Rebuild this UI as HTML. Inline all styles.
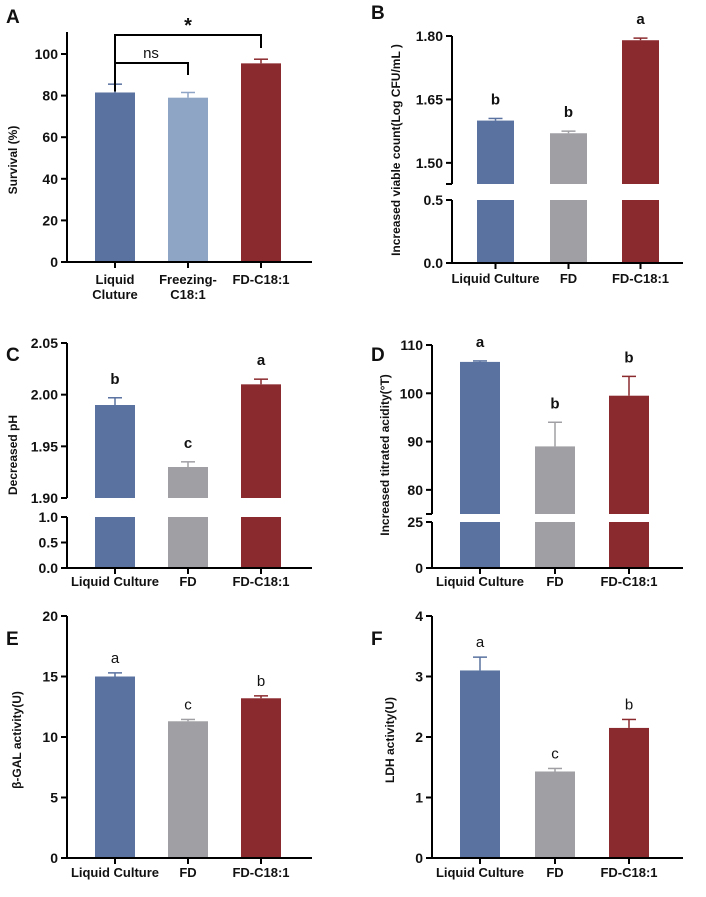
<!DOCTYPE html>
<html><head><meta charset="utf-8"><style>
body{margin:0;background:#fff}
svg text{font-family:"Liberation Sans",Arial,sans-serif;fill:#111}
</style></head><body>
<svg id="c" width="706" height="892" xmlns="http://www.w3.org/2000/svg"></svg>
<script>
const colors3=['#5a72a0','#a0a0a4','#8b2a2e'];
const catsA=['Liquid|Cluture','Freezing-|C18:1','FD-C18:1'];
const valsA=[81.5,79,95.5]; const errA=[4,2.5,2];
const ticksA=[0,20,40,60,80,100];
const cats3=['Liquid Culture','FD','FD-C18:1'];
const valsB=[1.60,1.57,1.79]; const errB=[0.005,0.005,0.005]; const lettersB=['b','b','a'];
const ticksBup=['1.50','1.65','1.80']; const ticksBlo=['0.0','0.5'];
const valsC=[1.99,1.93,2.01]; const errC=[0.007,0.005,0.005]; const lettersC=['b','c','a'];
const ticksCup=['1.90','1.95','2.00','2.05']; const ticksClo=['0.0','0.5','1.0'];
const valsD=[106.5,89,99.5]; const errD=[0.2,5,4]; const lettersD=['a','b','b'];
const ticksDup=['80','90','100','110']; const ticksDlo=['0','25'];
const valsE=[15,11.3,13.2]; const errE=[0.3,0.15,0.2]; const lettersE=['a','c','b'];
const ticksE=['0','5','10','15','20'];
const valsF=[3.1,1.43,2.15]; const errF=[0.22,0.05,0.14]; const lettersF=['a','c','b'];
const ticksF=['0','1','2','3','4'];

const S=document.getElementById('c');const NS='http://www.w3.org/2000/svg';
function el(t,a,p){const e=document.createElementNS(NS,t);for(const k in a)e.setAttribute(k,a[k]);(p||S).appendChild(e);return e;}
function txt(x,y,s,o,p){const e=el('text',Object.assign({x:x,y:y},o||{}),p);e.textContent=s;return e;}

// segs: [{min,max,yb,yt}] bottom first
function panel(cfg){
  const g=el('g',{});
  
  
  const segs=cfg.segs;
  const ax=cfg.ax;
  function Y(v){for(let i=segs.length-1;i>=0;i--){const s=segs[i];if(v>=s.min||i==0){const vv=Math.min(v,s.max*1.5);return s.yb-(vv-s.min)/(s.max-s.min)*(s.yb-s.yt);}}}
  // bars
  cfg.vals.forEach((v,i)=>{
    const x=cfg.bx[i];const w=cfg.bw;
    segs.forEach((s,si)=>{
      if(v<=s.min&&si>0)return;
      const top=v>=s.max&&si<segs.length-1?s.yt:Y(v);
      const r=el('rect',{x:x,y:top,width:w,height:s.yb-top,fill:cfg.colors[i]},g);
      
      
    });
    const cx=x+w/2, ye=Y(v+cfg.err[i]), yv=Y(v);
    el('line',{x1:cx,x2:cx,y1:ye,y2:yv,stroke:cfg.colors[i],'stroke-width':1.5},g);
    el('line',{x1:cx-7,x2:cx+7,y1:ye,y2:ye,stroke:cfg.colors[i],'stroke-width':1.5},g);
    if(cfg.letters){const t=txt(cx,ye-cfg.lgap,cfg.letters[i],{'text-anchor':'middle','font-size':15,'font-weight':cfg.lbold?'bold':'normal'},g);
      }
  });
  // axis
  segs.forEach((s,si)=>{
    el('line',{x1:ax,x2:ax,y1:s.yt-(si==segs.length-1?cfg.overTop||0:0),y2:s.yb,stroke:'#000','stroke-width':2},g);
    s.ticks.forEach(t=>{const y=s.yb-(parseFloat(t)-s.min)/(s.max-s.min)*(s.yb-s.yt);
      el('line',{x1:ax-6,x2:ax,y1:y,y2:y,stroke:'#000','stroke-width':2},g);
      const l=txt(ax-9,y+5,t,{'text-anchor':'end','font-size':14,'font-weight':'bold'},g);
      });
    if(si>0){el('line',{x1:ax-6,x2:ax,y1:s.yb,y2:s.yb,stroke:'#000','stroke-width':2},g);}
    if(si<segs.length-1){el('line',{x1:ax-6,x2:ax,y1:s.yt,y2:s.yt,stroke:'#000','stroke-width':2},g);}
  });
  const y0=segs[0].yb;
  el('line',{x1:ax,x2:cfg.xend,y1:y0,y2:y0,stroke:'#000','stroke-width':2},g);
  cfg.cats.forEach((c,i)=>{const cx=cfg.bx[i]+cfg.bw/2;
    el('line',{x1:cx,x2:cx,y1:y0,y2:y0+6,stroke:'#000','stroke-width':2},g);
    c.split('|').forEach((p,j)=>{const t=txt(cx,y0+cfg.lab+j*15,p,{'text-anchor':'middle','font-size':13,'font-weight':'bold'},g);
      });
  });
  const yc=cfg.titleY;
  const t=txt(cfg.tx,yc,cfg.title,{'text-anchor':'middle','font-size':cfg.tfs||12,'font-weight':'bold',transform:'rotate(-90 '+cfg.tx+' '+yc+')'},g);
  
  const p=txt(cfg.px,cfg.py,cfg.key,{'font-size':19,'font-weight':'bold'},g);
  
  return {g,Y};
}
const Lbx=[95,168,241], Rbx=[460,535,609];
const A=panel({name:'panel-a-survival',key:'A',vals:valsA,err:errA,colors:['#5a72a0','#8fa5c6','#8b2a2e'],cats:catsA,
  segs:[{min:0,max:100,yb:262,yt:54,ticks:ticksA.map(String)}],overTop:22,ax:67,bx:Lbx,bw:40,xend:312,lab:22,
  title:'Survival (%)',tx:17,titleY:160,px:6,py:23});
// brackets
(function(){const g=A.g,Y=A.Y;
 const ns=Y(100)+9, st=Y(100)-19;
 el('polyline',{points:`115,${Y(82)+0} 115,${st} 261,${st} 261,${st+13}`,fill:'none',stroke:'#000','stroke-width':2},g);
 el('polyline',{points:`115,${ns} 188,${ns} 188,${ns+12}`,fill:'none',stroke:'#000','stroke-width':2},g);
 const a=txt(151,ns-5,'ns',{'text-anchor':'middle','font-size':15},g);
 const b=txt(188,st-3,'*',{'text-anchor':'middle','font-size':20,'font-weight':'bold'},g);
})();
panel({name:'panel-b-viable-count',key:'B',vals:valsB,err:errB,colors:colors3,cats:cats3,letters:lettersB,lbold:true,lgap:14,
  segs:[{min:0,max:0.5,yb:263,yt:200,ticks:ticksBlo},{min:1.45,max:1.80,yb:184,yt:36,ticks:ticksBup}],ax:452,bx:[477,550,622],bw:37,xend:683,lab:20,
  title:'Increased viable count(Log CFU/mL )',tx:400,titleY:150,tfs:12,px:371,py:19});
panel({name:'panel-c-ph',key:'C',vals:valsC,err:errC,colors:colors3,cats:cats3,letters:lettersC,lbold:true,lgap:14,
  segs:[{min:0,max:1,yb:568,yt:517,ticks:ticksClo},{min:1.9,max:2.05,yb:498,yt:343,ticks:ticksCup}],ax:67,bx:Lbx,bw:40,xend:312,lab:18,
  title:'Decreased pH',tx:17,titleY:455,px:6,py:361});
panel({name:'panel-d-acidity',key:'D',vals:valsD,err:errD,colors:colors3,cats:cats3,letters:lettersD,lbold:true,lgap:14,
  segs:[{min:0,max:25,yb:568,yt:522,ticks:ticksDlo},{min:75,max:110,yb:514,yt:345,ticks:ticksDup}],ax:432,bx:Rbx,bw:40,xend:683,lab:18,
  title:'Increased titrated acidity(°T)',tx:389,titleY:455,px:371,py:361});
panel({name:'panel-e-bgal',key:'E',vals:valsE,err:errE,colors:colors3,cats:cats3,letters:lettersE,lbold:false,lgap:10,
  segs:[{min:0,max:20,yb:858,yt:616,ticks:ticksE}],ax:67,bx:Lbx,bw:40,xend:312,lab:19,
  title:'β-GAL activity(U)',tx:21,titleY:740,px:6,py:645});
panel({name:'panel-f-ldh',key:'F',vals:valsF,err:errF,colors:colors3,cats:cats3,letters:lettersF,lbold:false,lgap:10,
  segs:[{min:0,max:4,yb:858,yt:616,ticks:ticksF}],ax:432,bx:Rbx,bw:40,xend:683,lab:19,
  title:'LDH activity(U)',tx:394,titleY:740,px:371,py:645});
</script>
</body></html>
